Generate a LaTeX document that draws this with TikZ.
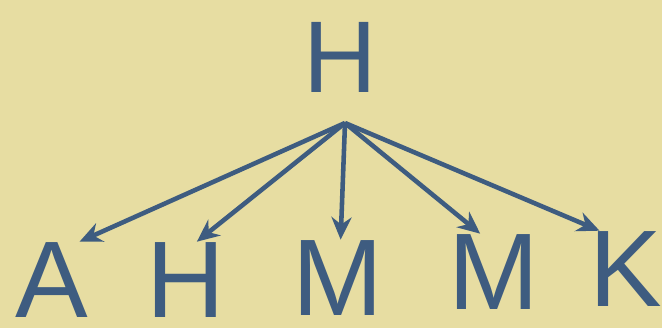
\documentclass[tikz,border=0pt]{standalone}
\usepackage{fontspec}
\setmainfont{Liberation Sans}
\usepackage{xcolor}
\usepackage{tikz}
\usetikzlibrary{arrows.meta,backgrounds}
\definecolor{paper}{HTML}{E7DDA2}
\definecolor{ink}{HTML}{3E5C80}
\tikzset{
  letter/.style={text=ink,inner sep=0pt,anchor=base,
                 font=\fontsize{62}{62}\selectfont},
  toplet/.style={letter,font=\fontsize{58}{58}\selectfont},
  arr/.style={-{Stealth[length=4.5mm,width=4mm]},draw=ink,line width=2.6pt}
}

\begin{document}
\begin{tikzpicture}[x=0.02cm,y=-0.02cm]
  \fill[paper] (0,0) rectangle (662,328);
  \useasboundingbox (0,0) rectangle (662,328);
  \node[toplet] (top) at (340,92) {H};
  \coordinate (src) at (345,123);
  \node[letter] (la) at (52,317) {A};
  \node[letter] (lh) at (186,317) {H};
  \node[letter] (lm) at (338,315) {M};
  \node[letter] (lmm) at (494,309) {M};
  \node[letter] (lk) at (626,306) {K};

  \draw[arr] (src) -- (la.54);
  \draw[arr] (src) -- (lh.74);
  \draw[arr] (src) -- (lm.86);
  \draw[arr] (src) -- (lmm.110);
  \draw[arr] (src) -- (lk.125);
\end{tikzpicture}
\end{document}
